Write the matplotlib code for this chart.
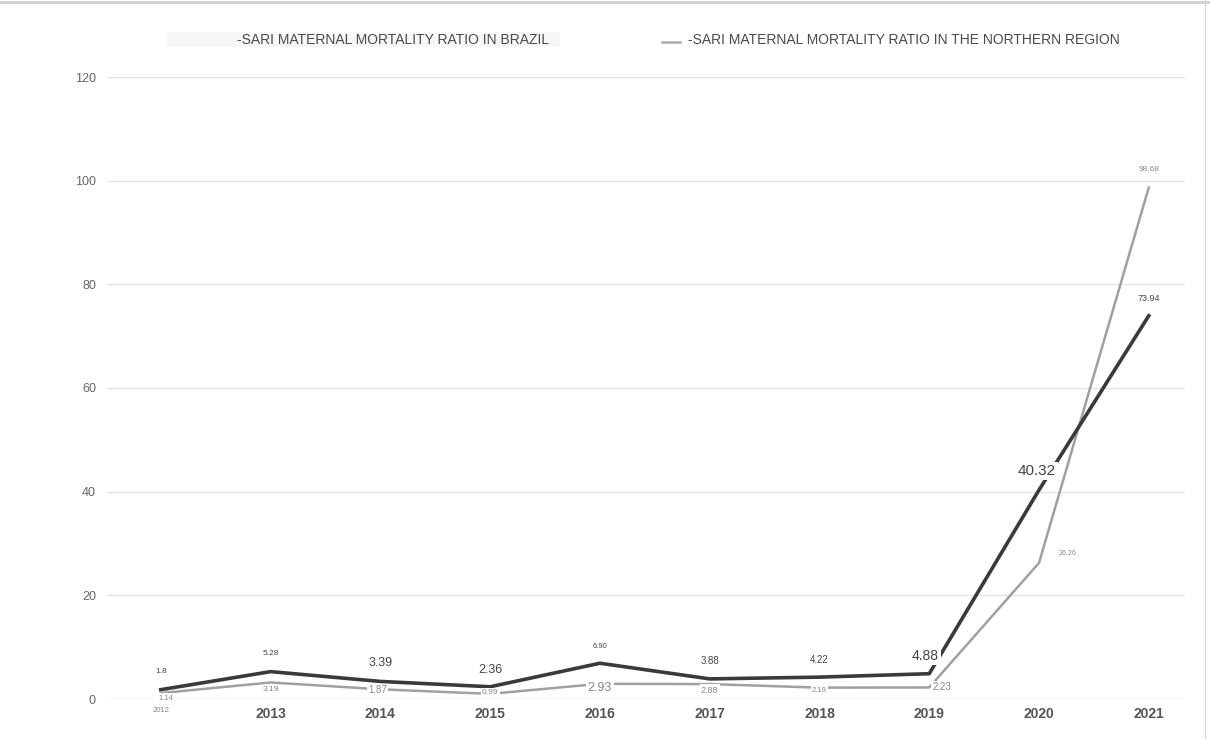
import matplotlib.pyplot as plt
import numpy as np

years = ['2012', '2013', '2014', '2015', '2016', '2017', '2018', '2019', '2020', '2021']
brazil = [1.8, 5.28, 3.39, 2.36, 6.90, 3.88, 4.22, 4.88, 40.32, 73.94]
north = [1.14, 3.19, 1.87, 0.99, 2.93, 2.88, 2.19, 2.23, 26.26, 98.68]

brazil_name = '-SARI MATERNAL MORTALITY RATIO IN BRAZIL'
north_name = '-SARI MATERNAL MORTALITY RATIO IN THE NORTHERN REGION'

# label offsets in pixels and font sizes for each point
brazil_off = [(0, 18), (0, 18), (0, 18), (0, 17), (0, 17), (0, 18), (0, 17), (-4, 18), (-2, 19), (0, 17)]
brazil_fs = [6, 6, 9, 9, 5.5, 7, 7, 10, 11, 6.5]
north_off = [(5, -5), (0, -7), (-3, -1), (0, 1), (0, -4), (0, -6), (0, -3), (13, 0), (28, 9), (0, 18)]
north_fs = [5.5, 6, 7, 6, 9, 6.5, 5.5, 7, 5, 6]

plt.rcParams['font.family'] = ['Liberation Sans', 'DejaVu Sans']

fig = plt.figure(figsize=(12.1, 7.39), dpi=100)
ax = fig.add_axes([107 / 1210, 1 - 699 / 739, (1185 - 107) / 1210, (699 - 77) / 739])

x = np.arange(len(years))
ax.plot(x, north, color='#a0a0a0', lw=1.8, zorder=2)
ax.plot(x, brazil, color='#3a3a3a', lw=2.6, zorder=3)

box = dict(boxstyle='square,pad=0.15', fc='white', ec='none')
for i in range(len(x)):
    ax.annotate(f'{brazil[i]:.2f}'.rstrip('0').rstrip('.') if i == 0 else f'{brazil[i]:.2f}',
                (x[i], brazil[i]), xytext=brazil_off[i], textcoords='offset pixels',
                ha='center', va='center', fontsize=brazil_fs[i], color='#444444',
                bbox=box, zorder=5)
    ax.annotate(f'{north[i]:.2f}', (x[i], north[i]), xytext=north_off[i],
                textcoords='offset pixels', ha='center', va='center',
                fontsize=north_fs[i], color='#888888', bbox=box, zorder=4)

ax.set_xlim(-0.49, 9.33)
ax.set_ylim(0, 120)
ax.set_yticks(range(0, 121, 20))
ax.grid(axis='y', color='#e4e4e4', lw=1)
ax.set_axisbelow(True)
for s in ax.spines.values():
    s.set_visible(False)
ax.tick_params(axis='both', length=0)
ax.tick_params(axis='y', labelsize=9, colors='#666666', pad=8)
ax.set_xticks(x)
ax.set_xticklabels(years)
for i, lab in enumerate(ax.get_xticklabels()):
    if i == 0:
        lab.set_fontsize(5.5)
        lab.set_color('#888888')
    else:
        lab.set_fontsize(10)
        lab.set_fontweight('bold')
        lab.set_color('#555555')
ax.tick_params(axis='x', pad=6)

# legend drawn by hand across the top
fig.patches.append(plt.Rectangle((167 / 1210, 1 - 47 / 739), 393 / 1210, 15 / 739,
                                 transform=fig.transFigure, fc='#f7f7f7', ec='none'))
fig.text(237 / 1210, 1 - 40 / 739, brazil_name, fontsize=10, color='#4a4a4a',
         va='center', ha='left')
fig.add_artist(plt.Line2D([662 / 1210, 680 / 1210], [1 - 42 / 739, 1 - 42 / 739],
                          transform=fig.transFigure, color='#aaaaaa', lw=1.8))
fig.text(688 / 1210, 1 - 40 / 739, north_name, fontsize=10, color='#4a4a4a',
         va='center', ha='left')

# thin frame along the top and right edge
fig.add_artist(plt.Line2D([0, 1], [1 - 2 / 739, 1 - 2 / 739], transform=fig.transFigure,
                          color='#d0d0d0', lw=2))
fig.add_artist(plt.Line2D([1 - 5 / 1210, 1 - 5 / 1210], [0, 1], transform=fig.transFigure,
                          color='#d8d8d8', lw=1))

fig.savefig('out.png', dpi=100)
